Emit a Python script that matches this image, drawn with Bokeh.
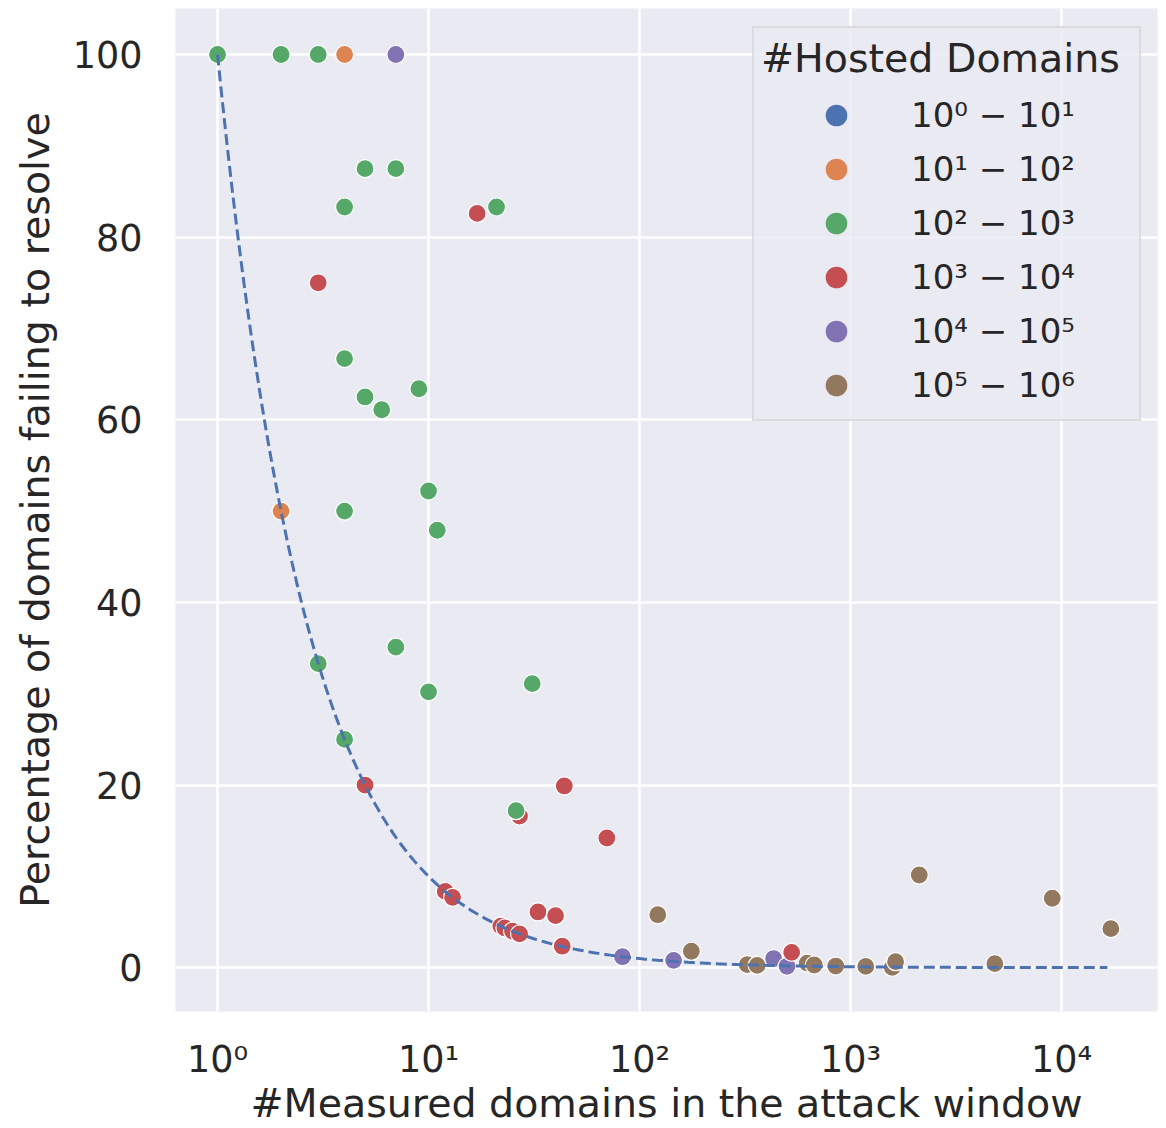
import numpy as np
from bokeh.plotting import figure
from bokeh.models import FixedTicker, Legend, LegendItem, Range1d
from bokeh.embed import file_html
from bokeh.resources import INLINE

# ---------------- data ----------------
categories = ["10⁰ − 10¹", "10¹ − 10²", "10² − 10³", "10³ − 10⁴", "10⁴ − 10⁵", "10⁵ − 10⁶"]
colors = ["#4C72B0", "#DD8452", "#55A868", "#C44E52", "#8172B3", "#937860"]

# hosted domains 10^0 - 10^1 (no points)
h0_x = []
h0_y = []
# hosted domains 10^1 - 10^2
h1_x = [4, 2]
h1_y = [100, 50]
# hosted domains 10^2 - 10^3
h2_x = [1, 2, 3, 5, 7, 4, 21, 4, 5, 6, 9, 4, 10, 11, 3, 7, 10, 31, 4, 26]
h2_y = [100, 100, 100, 87.5, 87.5, 83.3, 83.3, 66.7, 62.5, 61.1, 63.4, 50, 52.2, 47.9,
        33.3, 35.1, 30.2, 31.1, 25, 17.2]
# hosted domains 10^3 - 10^4
h3_x = [17, 3, 5, 44, 27, 70, 12, 13, 33, 40, 22, 23, 25, 27, 43, 526]
h3_y = [82.6, 75, 20, 19.9, 16.6, 14.2, 8.35, 7.7, 6.1, 5.7, 4.55, 4.35, 4.0, 3.7, 2.35, 1.68]
# hosted domains 10^4 - 10^5
h4_x = [7, 83, 145, 432, 500]
h4_y = [100, 1.2, 0.8, 1.0, 0.15]
# hosted domains 10^5 - 10^6
h5_x = [122, 176, 324, 361, 623, 673, 851, 1181, 1577, 1635, 2117, 4830, 9035, 17130]
h5_y = [5.8, 1.8, 0.33, 0.25, 0.5, 0.29, 0.18, 0.14, 0.03, 0.66, 10.15, 0.44, 7.6, 4.27]

series_x = [h0_x, h1_x, h2_x, h3_x, h4_x, h5_x]
series_y = [h0_y, h1_y, h2_y, h3_y, h4_y, h5_y]

x_ticks = [1, 10, 100, 1000, 10000]
x_tick_labels = ["10⁰", "10¹", "10²", "10³", "10⁴"]
y_ticks = [0, 20, 40, 60, 80, 100]

# reference curve: one failing domain out of x measured -> 100/x percent
curve_x_max = 16500

TEXT = "#262626"
FONT = "DejaVu Sans"

p = figure(width=1166, height=1128, x_axis_type="log",
           x_range=Range1d(0.632, 28500), y_range=Range1d(-4.8, 105.04),
           output_backend="svg", toolbar_location=None,
           min_border_left=175, min_border_right=9, min_border_top=8, min_border_bottom=116)

p.background_fill_color = "#EAEAF2"
p.border_fill_color = "white"
p.outline_line_color = None

p.xaxis.ticker = FixedTicker(ticks=x_ticks)
p.yaxis.ticker = FixedTicker(ticks=y_ticks)
p.xgrid.ticker = FixedTicker(ticks=x_ticks)
p.ygrid.ticker = FixedTicker(ticks=y_ticks)
p.grid.grid_line_color = "white"
p.grid.grid_line_width = 2.5
p.xgrid.minor_grid_line_color = None

p.xaxis.major_label_overrides = {t: lab for t, lab in zip(x_ticks, x_tick_labels)}

for ax in (p.xaxis, p.yaxis):
    ax.axis_line_color = None
    ax.major_tick_line_color = None
    ax.minor_tick_line_color = None
    ax.major_tick_out = 0
    ax.major_tick_in = 0
    ax.major_label_text_font = FONT
    ax.major_label_text_font_size = "36.5px"
    ax.major_label_text_color = TEXT
    ax.axis_label_text_font = FONT
    ax.axis_label_text_font_size = "39.5px"
    ax.axis_label_text_font_style = "normal"
    ax.axis_label_text_color = TEXT

p.xaxis.axis_label = "#Measured domains in the attack window"
p.yaxis.axis_label = "Percentage of domains failing to resolve"
p.xaxis.major_label_standoff = 26
p.yaxis.major_label_standoff = 33
p.xaxis.axis_label_standoff = -4
p.yaxis.axis_label_standoff = 12

# scatter points (drawing order chosen for overlaps)
for i in [1, 5, 4, 3, 2, 0]:
    if len(series_x[i]) == 0:
        continue
    p.scatter(series_x[i], series_y[i], marker="circle", size=18,
              fill_color=colors[i], line_color="white", line_width=1.2)

# dashed reference curve
cx = np.logspace(0, np.log10(curve_x_max), 300)
p.line(cx, 100.0 / cx, line_color="#4C72B0", line_width=3, line_dash="11 5")

# legend handles
items = []
for i, cat in enumerate(categories):
    proxy = p.scatter([np.nan], [np.nan], marker="circle", size=18,
                      fill_color=colors[i], line_color=None)
    items.append(LegendItem(label=cat, renderers=[proxy]))

legend = Legend(items=items, location=(577, 590), title="#Hosted Domains",
                title_text_font=FONT, title_text_font_size="39.5px",
                title_text_font_style="normal", title_text_color=TEXT, title_standoff=7,
                label_text_font=FONT, label_text_font_size="34px", label_text_color=TEXT,
                glyph_width=150, glyph_height=54, label_height=54, label_width=221,
                label_standoff=0, spacing=0, padding=7, margin=0,
                background_fill_color="#EAEAF2", background_fill_alpha=0.8,
                border_line_color="#CCCCCC", border_line_width=2)
p.add_layout(legend)

open("out.html", "w").write(file_html(p, INLINE))
